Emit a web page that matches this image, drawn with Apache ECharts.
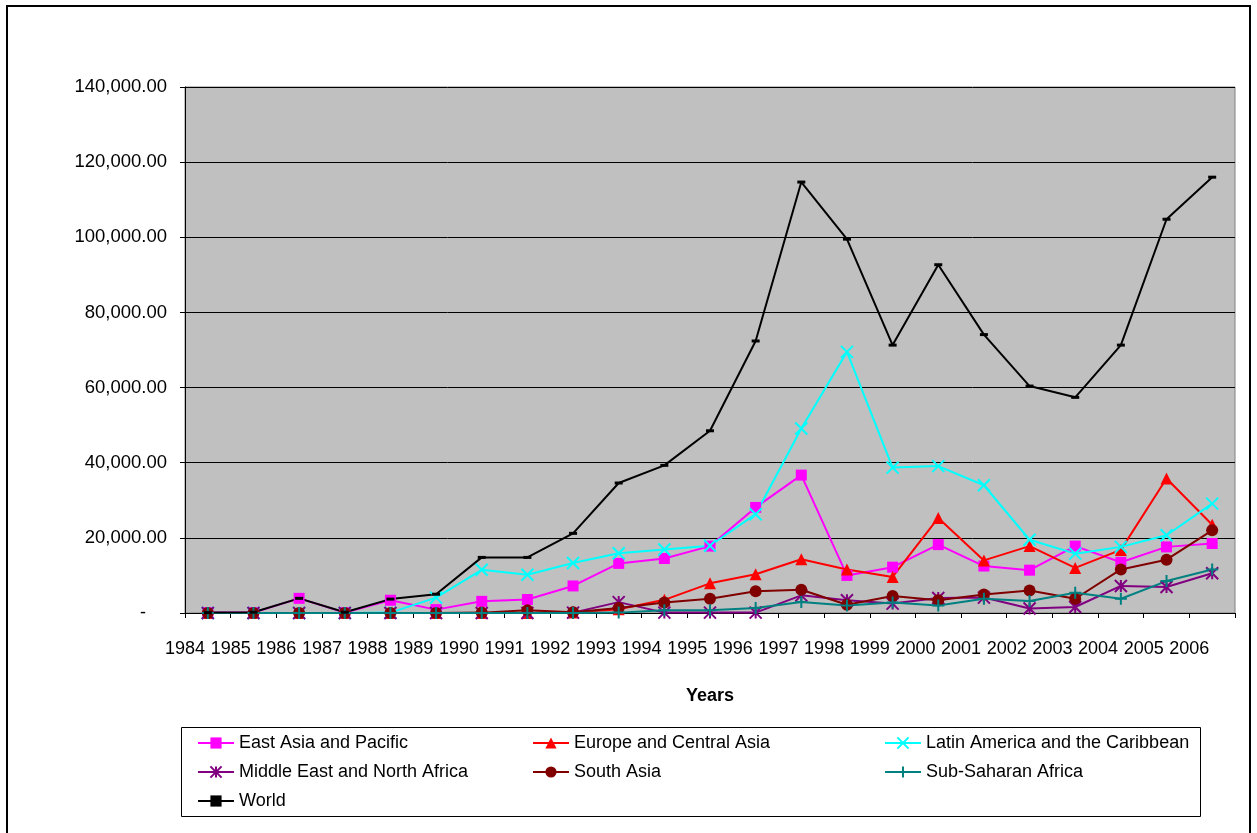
<!DOCTYPE html>
<html>
<head>
<meta charset="utf-8">
<script src="https://cdn.jsdelivr.net/npm/echarts@6/dist/echarts.min.js"></script>
<style>
html,body{margin:0;padding:0;background:#fff;}
#chart{width:1257px;height:833px;}
</style>
</head>
<body>
<div id="chart"></div>
<script>
const years = ['1984','1985','1986','1987','1988','1989','1990','1991','1992','1993','1994','1995','1996','1997','1998','1999','2000','2001','2002','2003','2004','2005','2006'];
const yTicks = [0, 20000, 40000, 60000, 80000, 100000, 120000, 140000];

const eastAsia   = [100, 100, 3900, 100, 3400, 900, 3100, 3600, 7200, 13200, 14500, 17800, 28100, 36700, 10000, 12200, 18200, 12500, 11400, 17800, 13500, 17600, 18500];
const europe     = [0, 0, 0, 0, 0, 0, 0, 0, 100, 1000, 3500, 7900, 10300, 14300, 11600, 9600, 25300, 14000, 17800, 12000, 16800, 35800, 23500];
const latin      = [0, 0, 0, 0, 100, 4100, 11500, 10200, 13300, 15900, 16900, 17900, 26300, 49100, 69500, 38700, 39100, 34000, 19500, 15800, 17600, 20700, 29100];
const midEast    = [0, 0, 0, 0, 0, 0, 0, 0, 100, 2900, 100, 100, 100, 4700, 3400, 2500, 4000, 4100, 1200, 1600, 7200, 6900, 10600];
const southAsia  = [0, 0, 0, 0, 0, 0, 100, 700, 200, 1300, 2800, 3800, 5800, 6200, 2200, 4500, 3400, 4900, 6000, 3800, 11600, 14200, 22000];
const subSaharan = [0, 0, 0, 0, 0, 0, 0, 0, 0, 100, 700, 700, 1300, 2900, 2000, 2800, 2000, 3800, 3200, 5400, 3800, 8500, 11600];
const world      = [100, 200, 3900, 200, 3700, 5000, 14800, 14800, 21200, 34600, 39300, 48500, 72400, 114700, 99500, 71300, 92700, 74100, 60400, 57400, 71300, 104800, 116000];

const FONT = '"Liberation Sans", Arial, sans-serif';

function pts(arr){ return arr.map((v,i)=>[i+0.5, v]); }

const SYM_X = 'path://M0,0L10,10M10,0L0,10';
const SYM_AST = 'path://M5,0L5,10M0,0L10,10M10,0L0,10';
const SYM_PLUS = 'path://M5,0L5,10M0,5L10,5';

function mk(name, data, color, symbol, size, stroked){
  return {
    name, type:'line', data: pts(data), symbol, symbolSize: size,
    showAllSymbol: true,
    lineStyle:{color, width:2},
    itemStyle: stroked ? {color:'none', borderColor: color, borderWidth: 2} : {color, borderColor: color, borderWidth: 0},
    emphasis:{disabled:true},
    animation:false
  };
}

const series = [
  mk('East Asia and Pacific', eastAsia, '#FF00FF', 'rect', 11, false),
  mk('Europe and Central Asia', europe, '#FF0000', 'triangle', 12, false),
  mk('Latin America and the Caribbean', latin, '#00FFFF', SYM_X, 12, true),
  mk('Middle East and North Africa', midEast, '#800080', SYM_AST, 12, true),
  mk('South Asia', southAsia, '#800000', 'circle', 12, false),
  mk('Sub-Saharan Africa', subSaharan, '#008080', SYM_PLUS, 12, true),
  mk('World', world, '#000000', 'rect', [8,3], false)
];

const legendBase = {
  orient:'vertical', top:733, padding:0, itemWidth:36, itemHeight:14, itemGap:9,
  textStyle:{fontFamily:FONT, fontSize:18, color:'#000', lineHeight:20},
  selectedMode:false, inactiveColor:'#000'
};

const chart = echarts.init(document.getElementById('chart'), null, {renderer:'canvas'});
chart.setOption({
  backgroundColor:'#ffffff',
  animation:false,
  grid:{left:185, right:22, top:87, bottom:220, show:true, backgroundColor:'#C0C0C0', borderColor:'#808080', borderWidth:1},
  xAxis:{
    type:'value', min:0, max:years.length, interval:1,
    name:'Years', nameLocation:'middle', nameGap:74,
    nameTextStyle:{fontFamily:FONT, fontSize:18, fontWeight:'bold', color:'#000'},
    axisLine:{show:true, onZero:false, lineStyle:{color:'#000', width:1}},
    axisTick:{show:true, length:5, lineStyle:{color:'#000'}},
    axisLabel:{fontFamily:FONT, fontSize:18, color:'#000', margin:27, showMaxLabel:true, showMinLabel:true,
      formatter:(v)=> years[v] !== undefined ? years[v] : ''},
    splitLine:{show:false}
  },
  yAxis:{
    type:'value', min:yTicks[0], max:yTicks[yTicks.length-1], interval:yTicks[1]-yTicks[0],
    axisLine:{show:true, lineStyle:{color:'#000', width:1}},
    axisTick:{show:true, length:5, lineStyle:{color:'#000'}},
    axisLabel:{fontFamily:FONT, fontSize:18.5, color:'#000', margin:18,
      formatter:(v)=> v===0 ? '{d|-}' : v.toLocaleString('en-US',{minimumFractionDigits:2, maximumFractionDigits:2}),
      rich:{d:{fontFamily:FONT, fontSize:18, color:'#000', padding:[0,21,0,0]}}},
    splitLine:{show:true, lineStyle:{color:'#000', width:1}}
  },
  legend:[
    Object.assign({}, legendBase, {left:197, data:['East Asia and Pacific','Middle East and North Africa','World']}),
    Object.assign({}, legendBase, {left:532, data:['Europe and Central Asia','South Asia']}),
    Object.assign({}, legendBase, {left:884, data:['Latin America and the Caribbean','Sub-Saharan Africa']})
  ],
  graphic:[
    {type:'rect', shape:{x:7, y:6, width:1243, height:845}, style:{fill:'none', stroke:'#000', lineWidth:2}, silent:true, z:-10},
    {type:'rect', shape:{x:181.5, y:727.5, width:1019, height:89}, style:{fill:'none', stroke:'#000', lineWidth:1}, silent:true, z:-10}
  ],
  series
});
</script>
</body>
</html>
